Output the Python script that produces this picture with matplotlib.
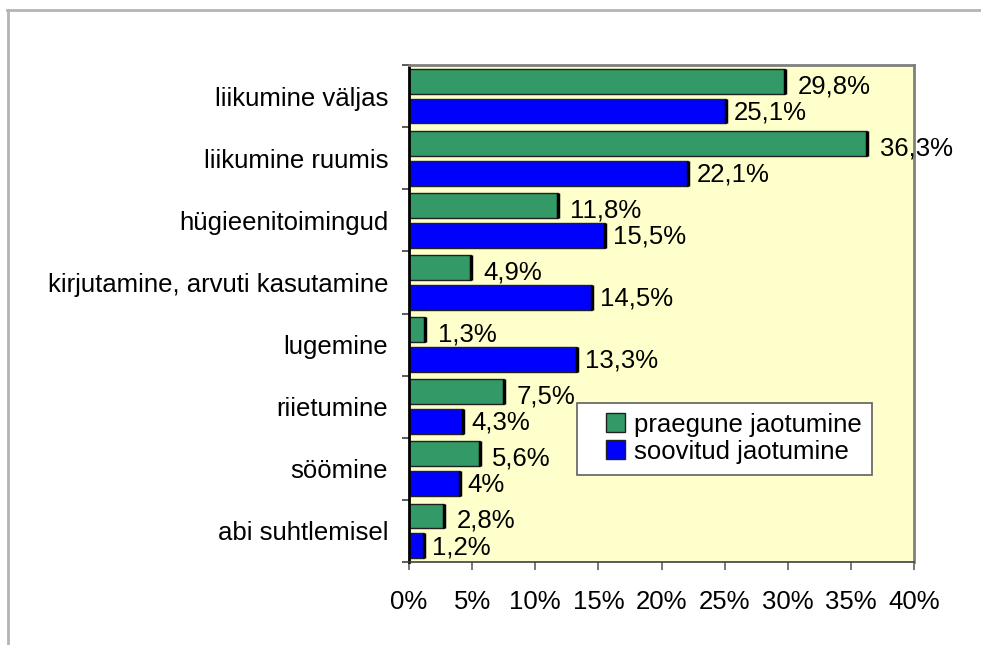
import numpy as np
import matplotlib
matplotlib.use("Agg")
import matplotlib.pyplot as plt
from matplotlib.lines import Line2D
from matplotlib.patches import Rectangle
from matplotlib.legend_handler import HandlerPatch

plt.rcParams['font.family'] = ['Liberation Sans', 'DejaVu Sans']

categories = ["liikumine väljas", "liikumine ruumis", "hügieenitoimingud",
              "kirjutamine, arvuti kasutamine", "lugemine", "riietumine",
              "söömine", "abi suhtlemisel"]
praegune = [29.8, 36.3, 11.8, 4.9, 1.3, 7.5, 5.6, 2.8]
soovitud = [25.1, 22.1, 15.5, 14.5, 13.3, 4.3, 4.0, 1.2]
series_names = ["praegune jaotumine", "soovitud jaotumine"]
xticks = [0, 5, 10, 15, 20, 25, 30, 35, 40]

FS = 18.5


def fmt(v):
    if v == int(v):
        return "%d%%" % v
    return ("%.1f%%" % v).replace(".", ",")


def small_box(legend, orig_handle, xdescent, ydescent, width, height, fontsize):
    # narrow square sitting at the right end of the handle slot
    w = 13
    return Rectangle((-xdescent + width - w, -ydescent), w, height + 1)


fig = plt.figure(figsize=(9.81, 6.45), dpi=100)
fig.patch.set_facecolor("white")
ax = fig.add_axes([409 / 981, 1 - 562 / 645, 505 / 981, 497 / 645])
ax.set_facecolor("#FFFFCC")

y = np.arange(len(categories))
h = 0.40
off = 0.24
green = "#339966"
blue = "#0000FF"
b1 = ax.barh(y - off, praegune, height=h, color=green, edgecolor="#202020", linewidth=1)
b2 = ax.barh(y + off, soovitud, height=h, color=blue, edgecolor="#202020", linewidth=1)
# darker shadow edge on the right end of each bar
ax.vlines(praegune, y - off - h / 2, y - off + h / 2, color="black", linewidth=2.5)
ax.vlines(soovitud, y + off - h / 2, y + off + h / 2, color="black", linewidth=2.5)

for yi, v in zip(y - off, praegune):
    ax.annotate(fmt(v), (v, yi + 0.08), xytext=(9, 0), textcoords="offset points",
                va="center", ha="left", fontsize=FS)
for yi, v in zip(y + off, soovitud):
    ax.annotate(fmt(v), (v, yi + 0.02), xytext=(6, 0), textcoords="offset points",
                va="center", ha="left", fontsize=FS)

ax.set_xlim(0, 40)
ax.set_ylim(len(categories) - 0.5, -0.5)
ax.set_xticks(xticks)
ax.set_xticklabels(["%d%%" % t for t in xticks], fontsize=FS)
ax.set_yticks(y)
ax.set_yticklabels(categories, fontsize=FS)
ax.set_yticks(np.arange(len(categories) + 1) - 0.5, minor=True)
ax.tick_params(axis="y", which="major", length=0, pad=15)
ax.tick_params(axis="y", which="minor", length=5, width=1.2, color="#404040")
ax.tick_params(axis="x", which="major", length=6, width=1.2, color="#606060", pad=14)

for s in ["top", "right"]:
    ax.spines[s].set_color("#808080")
    ax.spines[s].set_linewidth(2)
ax.spines["bottom"].set_color("#404040")
ax.spines["bottom"].set_linewidth(1.2)
ax.spines["left"].set_color("black")
ax.spines["left"].set_linewidth(2)

lx = (577 - 409) / 505
ly = 1 - (403 - 65) / 497
lw = 295 / 505
h1 = b1.patches[0]
h2 = b2.patches[0]
leg = ax.legend([h1, h2], series_names, loc="upper left",
                bbox_to_anchor=(lx, ly - 0.1, lw, 0.1), mode="expand",
                fontsize=FS, frameon=True, fancybox=False, edgecolor="#606060",
                facecolor="white", framealpha=1, handlelength=1.45, handleheight=0.7,
                handletextpad=0.35, borderpad=0.4, labelspacing=0.12,
                borderaxespad=0,
                handler_map={h1: HandlerPatch(patch_func=small_box),
                             h2: HandlerPatch(patch_func=small_box)})
leg.get_frame().set_linewidth(1.2)

# outer chart frame (left and top edges only are visible)
fig.add_artist(Line2D([8 / 981, 8 / 981], [0, 1 - 10 / 645], transform=fig.transFigure,
                      color="#B4B4B4", linewidth=2))
fig.add_artist(Line2D([7 / 981, 1], [1 - 10 / 645, 1 - 10 / 645], transform=fig.transFigure,
                      color="#B4B4B4", linewidth=2))

fig.savefig("out.png", dpi=100)
